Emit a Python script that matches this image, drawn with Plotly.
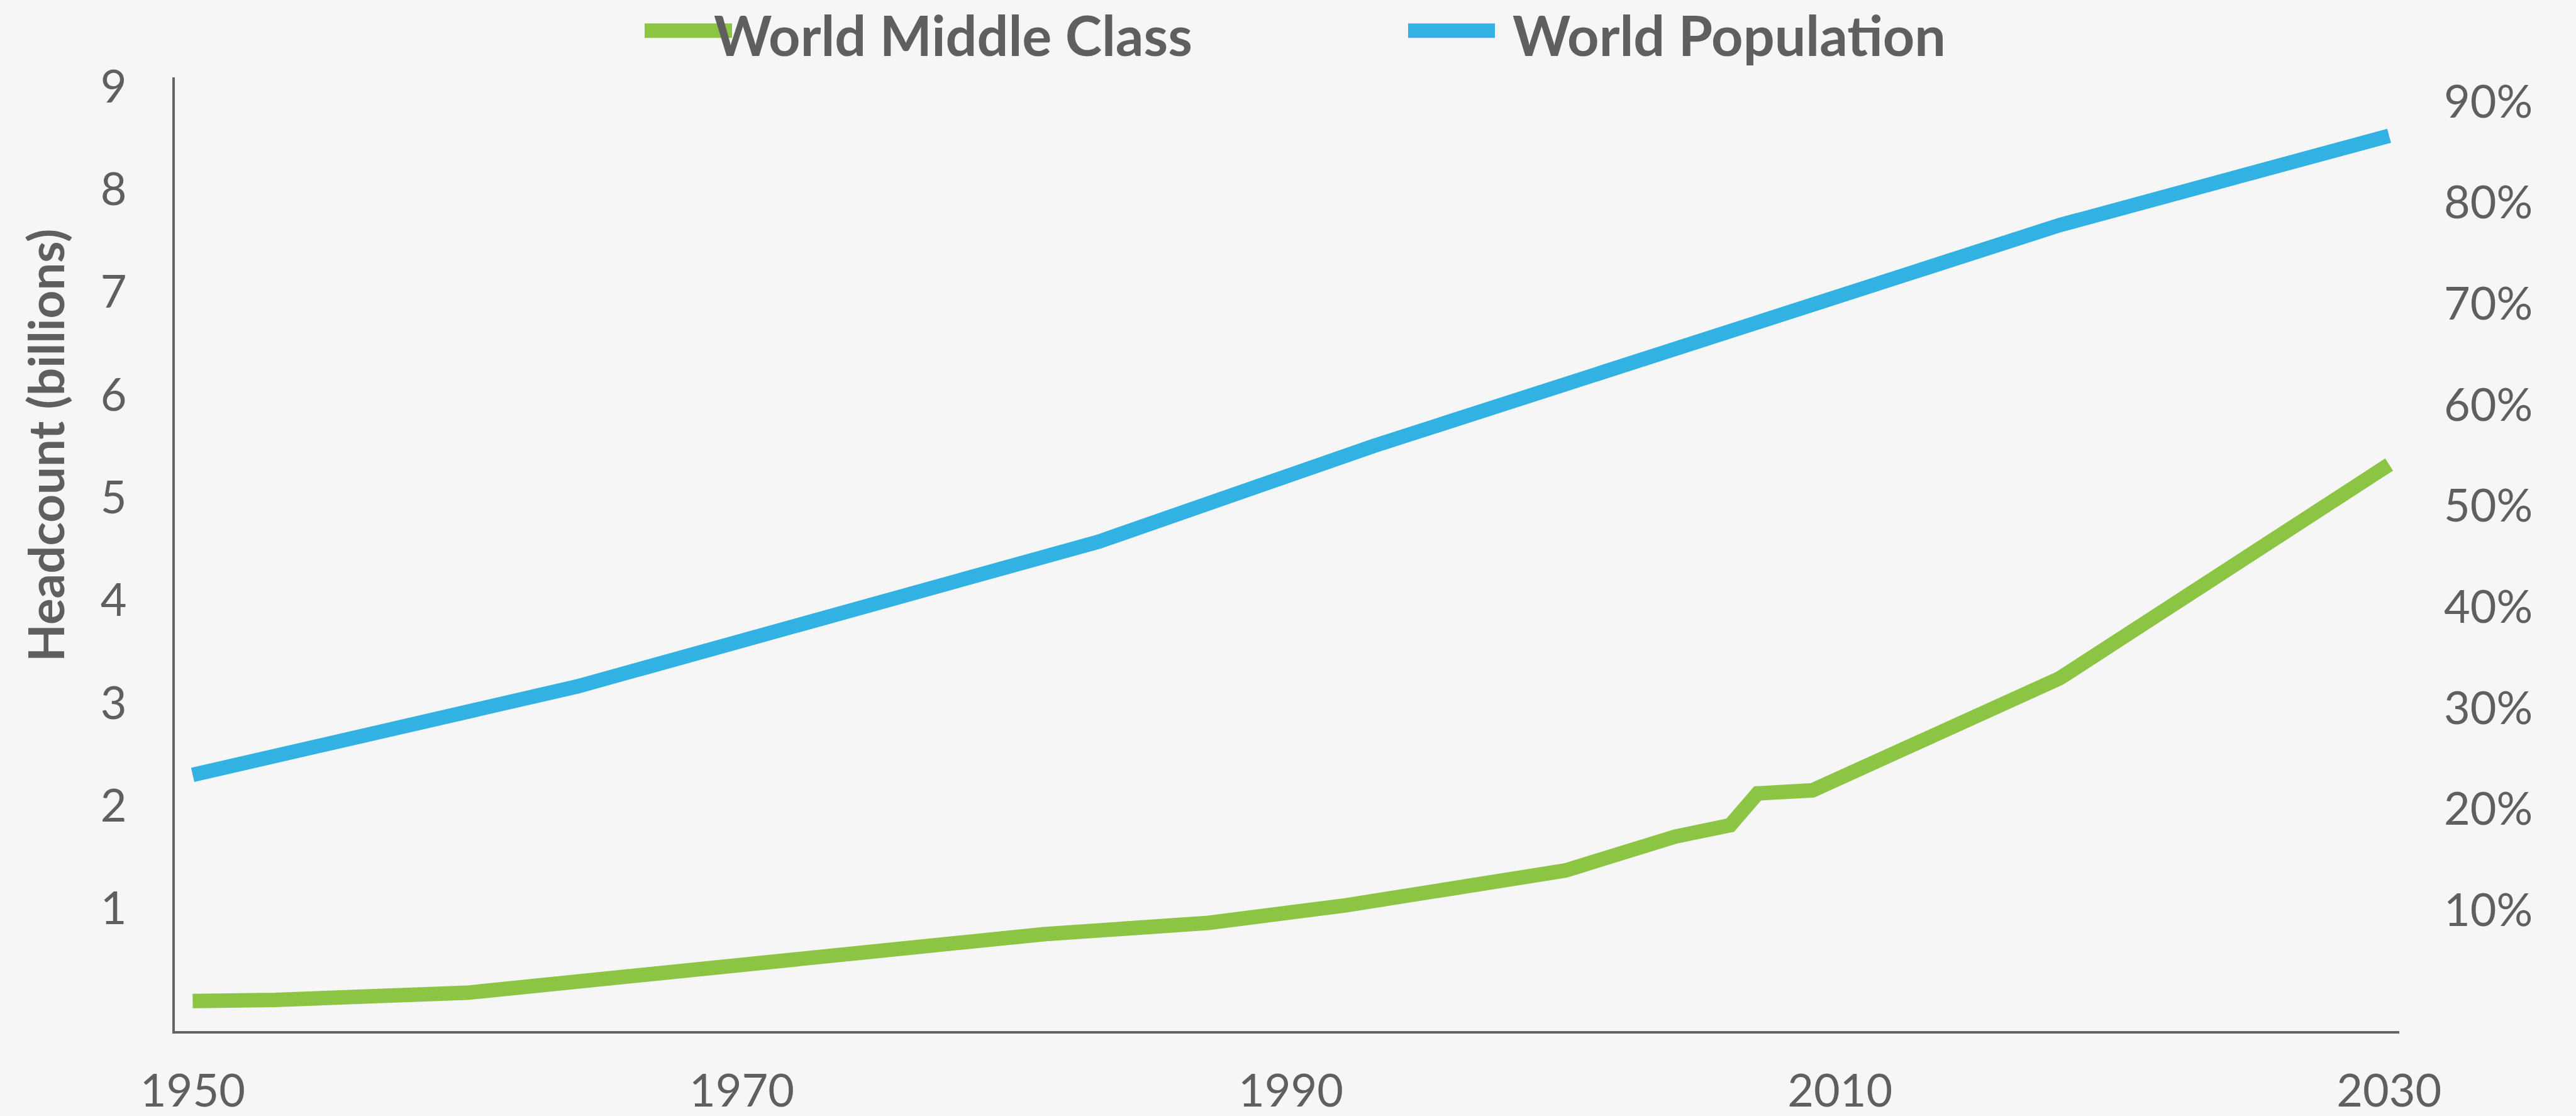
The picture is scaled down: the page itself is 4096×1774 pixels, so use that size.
import plotly.graph_objects as go

# ---- data ----
years_pop = [1950, 1964, 1983, 1993, 2018, 2030]
world_population = [2.30, 3.16, 4.57, 5.50, 7.65, 8.52]

years_mc = [1950, 1953, 1960, 1975, 1981, 1987, 1992, 2000, 2004, 2006, 2007, 2009, 2018, 2030]
world_middle_class = [0.10, 0.11, 0.18, 0.58, 0.75, 0.86, 1.03, 1.37, 1.70, 1.81, 2.12, 2.15, 3.24, 5.32]

x_ticks = [1950, 1970, 1990, 2010, 2030]
y_ticks = [1, 2, 3, 4, 5, 6, 7, 8, 9]
y2_ticks = [0.1, 0.2, 0.3, 0.4, 0.5, 0.6, 0.7, 0.8, 0.9]

series_names = ["World Middle Class", "World Population"]
y_title = "Headcount (billions)"

# ---- style ----
W, H = 4096, 1774
L, R, T, B = 278, 281, 123, 135
GREEN = "#8CC443"
BLUE = "#32B2E3"
TXT = "#5F5F5F"
AXIS = "#646464"
BG = "#F6F6F6"
FONT = "Lato"

plot_w = W - L - R
plot_h = H - T - B


def px_x(px):
    return (px - L) / plot_w


def px_y(py):
    return (H - B - py) / plot_h


fig = go.Figure()
fig.add_trace(go.Scatter(x=years_mc, y=world_middle_class, mode="lines",
                         line=dict(color=GREEN, width=23), name=series_names[0],
                         showlegend=False))
fig.add_trace(go.Scatter(x=years_pop, y=world_population, mode="lines",
                         line=dict(color=BLUE, width=23), name=series_names[1],
                         showlegend=False))
# empty trace so the right-hand axis is drawn
fig.add_trace(go.Scatter(x=[], y=[], yaxis="y2", showlegend=False, hoverinfo="skip"))

fig.update_layout(
    width=W, height=H, autosize=False,
    margin=dict(l=L, r=R, t=T, b=B, pad=0),
    paper_bgcolor=BG, plot_bgcolor=BG,
    font=dict(family=FONT, color=TXT, size=72),
    showlegend=False,
    xaxis=dict(range=[1949.35, 2030.37], tickvals=x_ticks, showgrid=False,
               zeroline=False, showline=True, linecolor=AXIS, linewidth=4,
               ticks="", tickfont=dict(size=72, color=TXT), ticklabelstandoff=30,
               automargin=False),
    yaxis=dict(range=[-0.193, 9.088], tickvals=y_ticks, showgrid=False,
               zeroline=False, showline=True, linecolor=AXIS, linewidth=4,
               ticks="", tickfont=dict(size=72, color=TXT), ticklabelstandoff=58,
               automargin=False),
    yaxis2=dict(range=[-0.0197, 0.924], tickvals=y2_ticks, tickformat=".0%",
                overlaying="y", side="right", showgrid=False, zeroline=False,
                showline=False, ticks="", tickfont=dict(size=72, color=TXT),
                ticklabelstandoff=70, automargin=False),
)

# manual legend (long line swatches overlapping the text, as in the reference)
legend_items = [
    (series_names[0], GREEN, 1025, 1164, 1134),
    (series_names[1], BLUE, 2239, 2377, 2404),
]
for name, col, x0, x1, tx in legend_items:
    fig.add_shape(type="line", xref="paper", yref="paper",
                  x0=px_x(x0), x1=px_x(x1), y0=px_y(48.7), y1=px_y(48.7),
                  line=dict(color=col, width=23))
    fig.add_annotation(text=name, xref="paper", yref="paper",
                       x=px_x(tx), y=px_y(55), xanchor="left", yanchor="middle",
                       showarrow=False, borderpad=0,
                       font=dict(family=FONT, size=88, color=TXT, weight=700))

fig.add_annotation(text=y_title, xref="paper", yref="paper",
                   x=px_x(72), y=px_y(708), xanchor="center", yanchor="middle",
                   textangle=-90, showarrow=False,
                   font=dict(family=FONT, size=78, color=TXT, weight=700))

fig.write_html(
    "out.html",
    config={"displayModeBar": False},
    post_script=(
        "document.body.style.margin='0';"
        "document.body.style.overflow='hidden';"
        "document.body.style.background='" + BG + "';"
    ),
)
